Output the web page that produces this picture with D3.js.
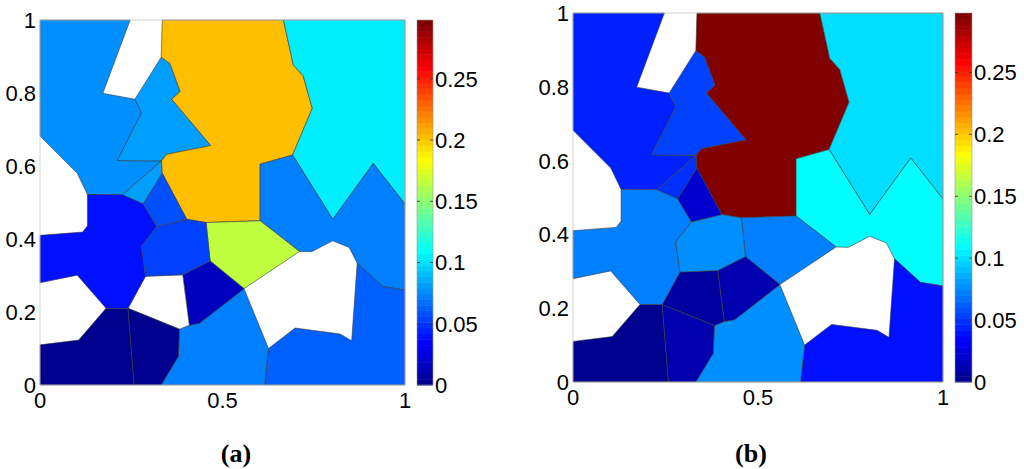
<!DOCTYPE html>
<html><head><meta charset="utf-8">
<script src="https://cdn.jsdelivr.net/npm/d3@7"></script>
<style>body{margin:0;background:#fff} svg{display:block}</style>
</head><body>
<svg id="chart" width="1024" height="469"></svg>
<script>
// Cell polygons (data coordinates, unit square)
const cells = [
  /* 0 big left */ [[0,1],[0.247,1],[0.172,0.799],[0.260,0.783],[0.278,0.745],[0.212,0.615],[0.333,0.614],[0.226,0.521],[0.130,0.522],[0.102,0.580],[0,0.682]],
  /* 1 light blue upper */ [[0.332,0.898],[0.356,0.881],[0.384,0.804],[0.361,0.783],[0.468,0.656],[0.347,0.632],[0.333,0.614],[0.212,0.615],[0.278,0.745],[0.260,0.783]],
  /* 2 small triangle */ [[0.333,0.614],[0.335,0.580],[0.283,0.496],[0.226,0.521]],
  /* 3 top centre */ [[0.335,1],[0.667,1],[0.694,0.877],[0.721,0.847],[0.746,0.758],[0.692,0.630],[0.603,0.605],[0.603,0.450],[0.455,0.445],[0.402,0.454],[0.335,0.580],[0.333,0.614],[0.347,0.632],[0.468,0.656],[0.361,0.783],[0.384,0.804],[0.356,0.881],[0.332,0.898]],
  /* 4 top right */ [[0.667,1],[1,1],[1,0.496],[0.913,0.607],[0.802,0.454],[0.692,0.630],[0.746,0.758],[0.721,0.847],[0.694,0.877]],
  /* 5 middle right */ [[0.692,0.630],[0.802,0.454],[0.913,0.607],[1,0.496],[1,0.260],[0.939,0.270],[0.869,0.334],[0.847,0.377],[0.802,0.395],[0.744,0.365],[0.711,0.366],[0.603,0.450],[0.603,0.605]],
  /* 6 centre */ [[0.455,0.445],[0.603,0.450],[0.711,0.366],[0.559,0.264],[0.466,0.340]],
  /* 7 bottom right */ [[1,0.260],[1,0],[0.615,0],[0.626,0.100],[0.699,0.156],[0.822,0.140],[0.854,0.121],[0.869,0.334],[0.939,0.270]],
  /* 8 bottom middle */ [[0.382,0.153],[0.409,0.164],[0.437,0.169],[0.559,0.264],[0.626,0.100],[0.615,0],[0.332,0],[0.379,0.078]],
  /* 9 dark small */ [[0.391,0.302],[0.466,0.340],[0.559,0.264],[0.437,0.169],[0.409,0.164]],
  /* 10 lower middle */ [[0.241,0.210],[0.289,0.298],[0.391,0.302],[0.409,0.164],[0.382,0.153]],
  /* 11 bottom left */ [[0,0.110],[0.106,0.123],[0.181,0.210],[0.241,0.210],[0.258,0],[0,0]],
  /* 12 bottom second */ [[0.241,0.210],[0.382,0.153],[0.379,0.078],[0.332,0],[0.258,0]],
  /* 13 left middle */ [[0.130,0.522],[0.226,0.521],[0.283,0.496],[0.320,0.434],[0.278,0.380],[0.289,0.298],[0.241,0.210],[0.181,0.210],[0.102,0.301],[0,0.280],[0,0.410],[0.117,0.419],[0.130,0.436]],
  /* 14 centre left */ [[0.320,0.434],[0.402,0.454],[0.455,0.445],[0.466,0.340],[0.391,0.302],[0.289,0.298],[0.278,0.380]],
  /* 15 small wedge */ [[0.335,0.580],[0.402,0.454],[0.320,0.434],[0.283,0.496]]
];
// Values per cell (null = no value, left white)
const valuesA = [0.078, 0.081, 0.082, 0.203, 0.107, 0.072, 0.167, 0.063, 0.073, 0.018, null, 0.002, 0.002, 0.040, 0.054, 0.060];
const valuesB = [0.045, 0.054, 0.050, 0.297, 0.098, 0.110, 0.070, 0.039, 0.075, 0.012, 0.007, 0.003, 0.011, 0.070, 0.076, 0.021];
const xTicks = [0, 0.5, 1];
const yTicks = [0, 0.2, 0.4, 0.6, 0.8, 1];
const cbarTicks = [0, 0.05, 0.1, 0.15, 0.2, 0.25];
const cMax = 0.298;
const panelLabels = ["(a)", "(b)"];

// MATLAB jet(64)
const uVals = [];
for (let k = 1; k <= 47; k++) uVals.push(k <= 16 ? k/16 : (k <= 31 ? 1 : (48-k)/16));
const uAt = k => (k < 1 || k > 47) ? 0 : uVals[k-1];
function jetColor(i) { // 1..64
  const r = uAt(i-24), g = uAt(i-8), b = uAt(i+8);
  return d3.rgb(Math.round(r*255), Math.round(g*255), Math.round(b*255)).toString();
}
const colorIndex = v => Math.max(1, Math.min(64, Math.floor(v / cMax * 64) + 1));

const svg = d3.select("#chart");
const panels = [
  {vals: valuesA, x0: 40, x1: 405, y0: 20, y1: 385, c0: 417, c1: 433, lx: 236},
  {vals: valuesB, x0: 573, x1: 943, y0: 13, y1: 382, c0: 955, c1: 972, lx: 751}
];
const numFont = "'Liberation Sans', Arial, Helvetica, sans-serif";

panels.forEach((p, pi) => {
  const x = d3.scaleLinear().domain([0,1]).range([p.x0, p.x1]);
  const y = d3.scaleLinear().domain([0,1]).range([p.y1, p.y0]);
  const g = svg.append("g");
  const line = d3.line().x(d => x(d[0])).y(d => y(d[1]));
  g.selectAll("path.cell").data(cells.map((c, i) => ({c, v: p.vals[i]})))
    .join("path")
    .attr("class", "cell")
    .attr("d", d => line(d.c) + "Z")
    .attr("fill", d => d.v == null ? "#ffffff" : jetColor(colorIndex(d.v)))
    .attr("stroke", "#3a3a3a")
    .attr("stroke-width", 0.6)
    .attr("stroke-linejoin", "round");
  // frame
  g.append("rect").attr("x", p.x0).attr("y", p.y0)
    .attr("width", p.x1 - p.x0).attr("height", p.y1 - p.y0)
    .attr("fill", "none").attr("stroke", "#c8c8c8").attr("stroke-width", 0.8);
  // y tick labels
  g.selectAll("text.yt").data(yTicks).join("text")
    .attr("class", "yt")
    .attr("x", p.x0 - 4).attr("y", d => y(d)).attr("dy", "0.36em")
    .attr("text-anchor", "end")
    .attr("font-family", numFont).attr("font-size", 22)
    .text(d => d3.format("~g")(d));
  // x tick labels
  g.selectAll("text.xt").data(xTicks).join("text")
    .attr("class", "xt")
    .attr("x", d => x(d)).attr("y", p.y1 + 23)
    .attr("text-anchor", "middle")
    .attr("font-family", numFont).attr("font-size", 22)
    .text(d => d3.format("~g")(d));
  // colorbar
  const cy = d3.scaleLinear().domain([0, cMax]).range([p.y1, p.y0]);
  const stripes = d3.range(1, 65);
  g.selectAll("rect.cb").data(stripes).join("rect")
    .attr("class", "cb")
    .attr("x", p.c0).attr("width", p.c1 - p.c0)
    .attr("y", i => cy(i/64*cMax))
    .attr("height", i => cy((i-1)/64*cMax) - cy(i/64*cMax) + 0.5)
    .attr("fill", i => jetColor(i));
  g.append("rect").attr("x", p.c0).attr("y", p.y0)
    .attr("width", p.c1 - p.c0).attr("height", p.y1 - p.y0)
    .attr("fill", "none").attr("stroke", "#9a9a9a").attr("stroke-width", 0.6);
  g.selectAll("line.cbt").data(cbarTicks.slice(1)).join("line")
    .attr("class", "cbt")
    .attr("x1", p.c1 - 3).attr("x2", p.c1)
    .attr("y1", d => cy(d)).attr("y2", d => cy(d))
    .attr("stroke", "#333").attr("stroke-width", 0.8);
  g.selectAll("line.cbt2").data(cbarTicks.slice(1)).join("line")
    .attr("class", "cbt2")
    .attr("x1", p.c0).attr("x2", p.c0 + 3)
    .attr("y1", d => cy(d)).attr("y2", d => cy(d))
    .attr("stroke", "#333").attr("stroke-width", 0.8);
  g.selectAll("text.ct").data(cbarTicks).join("text")
    .attr("class", "ct")
    .attr("x", p.c1 + 2).attr("y", d => cy(d)).attr("dy", "0.36em")
    .attr("font-family", numFont).attr("font-size", 22)
    .text(d => d3.format("~g")(d));
  // panel label
  g.append("text").attr("x", p.lx).attr("y", 462)
    .attr("text-anchor", "middle")
    .attr("font-family", "'Liberation Serif', 'Times New Roman', serif")
    .attr("font-weight", "bold").attr("font-size", 26)
    .text(panelLabels[pi]);
});
</script>
</body></html>
